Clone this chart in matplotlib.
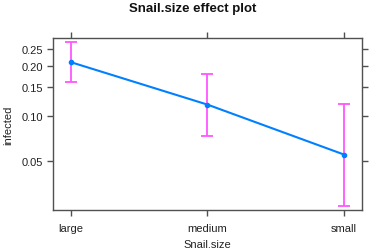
import matplotlib
matplotlib.use("Agg")
import matplotlib.pyplot as plt
import numpy as np

categories = ["large", "medium", "small"]
fit = [0.211, 0.1174, 0.0552]
lower = [0.162, 0.0737, 0.0246]
upper = [0.273, 0.181, 0.118]
yticks = [0.05, 0.10, 0.15, 0.20, 0.25]
ytick_labels = ["0.05", "0.10", "0.15", "0.20", "0.25"]

plt.rcParams['font.family'] = ['Liberation Sans', 'DejaVu Sans']

fig = plt.figure(figsize=(3.71, 2.51), dpi=100)
ax = fig.add_axes([53/371, 1-211/251, (362-53)/371, (211-39)/251])

x = np.arange(len(categories))
ax.plot(x, fit, color="#0080FF", lw=1.5, marker="o", ms=3, zorder=3)
ax.errorbar(x, fit, yerr=[np.array(fit)-np.array(lower), np.array(upper)-np.array(fit)],
            fmt="none", ecolor="#FF55FF", elinewidth=1.3, capsize=4.5, capthick=1.3, zorder=2)

ax.set_yscale("logit")
ax.set_ylim(0.0229, 0.285)
ax.set_xlim(-0.132, 2.132)
ax.set_yticks(yticks)
ax.set_yticklabels(ytick_labels)
ax.yaxis.set_minor_locator(matplotlib.ticker.NullLocator())
ax.yaxis.set_minor_formatter(matplotlib.ticker.NullFormatter())
ax.set_xticks(x)
ax.set_xticklabels(categories)

frame_col = "#505050"
for s in ax.spines.values():
    s.set_color(frame_col)
    s.set_linewidth(1.0)
ax.tick_params(axis="both", which="major", direction="out", length=4, width=1.0,
               color=frame_col, labelsize=8, labelcolor="#222222",
               top=True, right=True, labeltop=False, labelright=False, pad=3)
ax.tick_params(axis="x", pad=5)

ax.set_ylabel("infected", fontsize=8, color="#222222", labelpad=6)
ax.set_xlabel("Snail.size", fontsize=8, color="#222222", labelpad=5)

fig.text(193/371, 1-9/251, "Snail.size effect plot", ha="center", va="center",
         fontsize=9.5, fontweight="bold", color="#111111")

fig.savefig("out.png", dpi=100)
